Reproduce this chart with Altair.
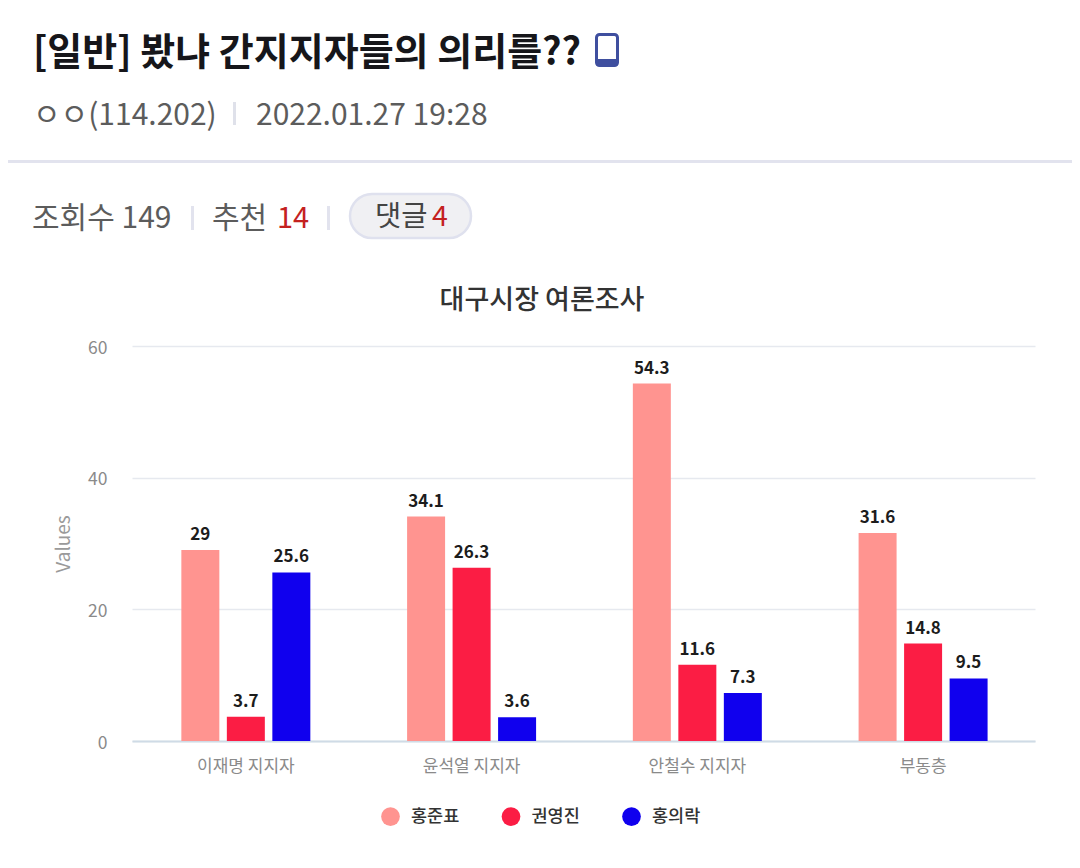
import altair as alt
import pandas as pd

FONT = "Noto Sans CJK KR"
groups = ["이재명 지지자", "윤석열 지지자", "안철수 지지자", "부동층"]
series = ["홍준표", "권영진", "홍의락"]
colors = ["#ff9490", "#fb1d44", "#1000ee"]
hong_jp = [29, 34.1, 54.3, 31.6]
kwon = [3.7, 26.3, 11.6, 14.8]
hong_ur = [25.6, 3.6, 7.3, 9.5]

rows = []
for name, vals in zip(series, [hong_jp, kwon, hong_ur]):
    for g, v in zip(groups, vals):
        rows.append({"group": g, "series": name, "value": v})
df = pd.DataFrame(rows)

PX, PY = 132, 346  # page position of the plot area's top-left corner
one = alt.Data(values=[{"k": 0}])


def label(text, x, y, size, color, weight=400, align="left", font=FONT):
    return alt.Chart(one).mark_text(
        text=text, font=font, fontSize=size, color=color, fontWeight=weight,
        align=align, baseline="middle",
    ).encode(x=alt.value(x - PX), y=alt.value(y - PY))


def box(x1, x2, y1, y2, fill, radius=0, stroke=None, sw=0):
    kw = {"stroke": stroke, "strokeWidth": sw} if stroke else {}
    return alt.Chart(one).mark_rect(fill=fill, cornerRadius=radius, **kw).encode(
        x=alt.value(x1 - PX), x2=alt.value(x2 - PX),
        y=alt.value(y1 - PY), y2=alt.value(y2 - PY),
    )


x_scale = alt.Scale(paddingInner=0.4286, paddingOuter=0.2143, align=0.51)
x_enc = alt.X("group:N", sort=groups, title=None, scale=x_scale,
              axis=alt.Axis(labelAngle=0, labelFont=FONT, labelFontSize=17, labelColor="#8a8a8a",
                            labelPadding=17, ticks=False, domainColor="#cfdbe6", domainWidth=2, grid=False))
offset = alt.XOffset("series:N", sort=series, scale=alt.Scale(paddingInner=0.165))
y_enc = alt.Y("value:Q", title="Values",
              scale=alt.Scale(domain=[0, 60], nice=False),
              axis=alt.Axis(values=[0, 20, 40, 60], labelFont=FONT, labelFontSize=17.5, labelColor="#8a8a8a",
                            labelPadding=25, labelOffset=2, ticks=False, domain=False, gridColor="#e6e9ef", gridWidth=1.5,
                            titleFont=FONT, titleFontSize=19, titleColor="#9a9a9a", titleFontWeight=400,
                            titlePadding=14))

bars = alt.Chart(df).mark_bar().encode(
    x=x_enc, xOffset=offset, y=y_enc,
    color=alt.Color("series:N", sort=series, scale=alt.Scale(domain=series, range=colors),
                    legend=alt.Legend(title=None, orient="none", legendX=249, legendY=461, direction="horizontal",
                                      symbolType="circle", symbolSize=350, symbolStrokeWidth=0,
                                      labelFont=FONT, labelFontSize=17.5, labelFontWeight=500, labelColor="#333333",
                                      labelOffset=11, columnPadding=41.5)),
)
values = alt.Chart(df).mark_text(dy=-15, font=FONT, fontSize=17, fontWeight=700, color="#1c1c1c").encode(
    x=alt.X("group:N", sort=groups), xOffset=offset, y=alt.Y("value:Q"), text=alt.Text("value:Q"),
)

header = [
    label("[일반] 봤냐 간지지자들의 의리를??", 33, 54, 38, "#16161a", 700),
    box(596.5, 617.5, 34.5, 65.5, "#ffffff", 3, "#3f4f9f", 3),
    box(596, 618, 59, 66, "#3f4f9f", 2),
    label("ㅇㅇ(114.202)", 33, 116, 30, "#5c5c5c"),
    box(233, 236, 102, 125, "#dfe1ea"),
    label("2022.01.27 19:28", 256, 116, 30, "#5c5c5c"),
    box(0, 1080, 160, 163, "#e2e3ee"),
    label("조회수 149", 32, 219, 30, "#5c5c5c"),
    box(191, 194, 206, 230, "#e2e3ee"),
    label("추천", 212, 219, 30, "#5c5c5c"),
    label("14", 277, 219, 29, "#c4211f"),
    box(327, 330, 206, 230, "#e2e3ee"),
    box(350, 471, 194, 238, "#f0f0f3", 22, "#dfe1ee", 2.5),
    label("댓글", 375, 217, 28.5, "#444444"),
    label("4", 432, 217, 28.5, "#c4211f"),
    label("대구시장 여론조사", 542, 301, 27, "#333333", 500, align="center"),
]

chart = alt.layer(bars, values, *header).properties(
    width=903, height=395,
    padding={"left": 124, "top": 338, "right": 37, "bottom": 120},
    autosize=alt.AutoSizeParams(type="none"),
    background="#ffffff",
).configure_view(stroke=None)

chart.save("out.html", embed_options={"renderer": "svg", "actions": False})
